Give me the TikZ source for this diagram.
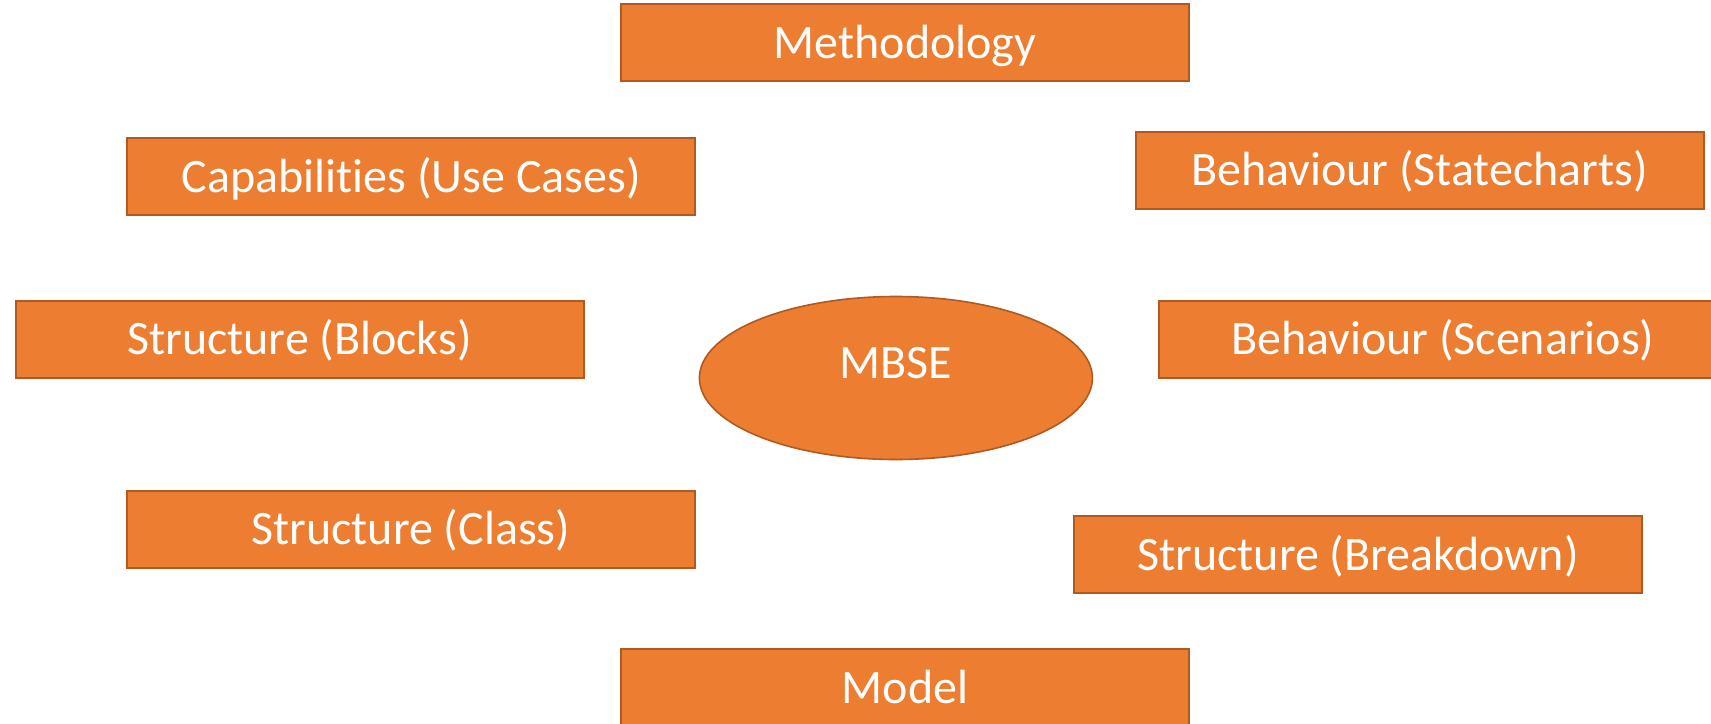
\documentclass[tikz,border=0pt]{standalone}
\usepackage{fontspec}
\setmainfont{Carlito}[Ligatures=NoCommon]
\usetikzlibrary{shapes.geometric}
\definecolor{boxfill}{HTML}{ED7D31}
\definecolor{boxline}{HTML}{AE5A21}
\begin{document}
\begin{tikzpicture}[x=1pt,y=-1pt,
  shapebase/.style={fill=boxfill, draw=boxline, line width=2pt, text=white,
    font=\fontsize{48}{58}\selectfont, inner sep=0pt},
  topic/.style={shapebase, rectangle, minimum width=568pt, minimum height=77pt,
    text height=31pt, text depth=0pt},
  hub/.style={shapebase, ellipse, line width=1.6pt, minimum width=393pt, minimum height=163pt},
  hubtext/.style={text=white, font=\fontsize{48}{58}\selectfont, inner sep=0pt,
    text height=31pt, text depth=0pt},
]
\useasboundingbox (0,0) rectangle (1711,723);
\clip (0,0) rectangle (1711,723);

% surrounding topics
\node[topic] (meth)  at (905,42.5)    {Methodology};
\node[topic] (cap)   at (411.4,176.8) {Capabilities (Use Cases)};
\node[topic] (state) at (1419.5,170)  {Behaviour (Statecharts)};
\node[topic] (block) at (299.5,339.3) {Structure (Blocks)};
\node[topic] (scen)  at (1442.8,339.3){Behaviour (Scenarios)};
\node[topic] (class) at (410.9,529.2) {Structure (Class)};
\node[topic] (brk)   at (1358,554.8)  {Structure (Breakdown)};
\node[topic] (model) at (905,687.5)   {Model};

% central hub
\node[hub] (mbse) at (895.9,378) {};
\node[hubtext] (mbsetext) at ([yshift=15pt]mbse.center) {MBSE};
\end{tikzpicture}
\end{document}
